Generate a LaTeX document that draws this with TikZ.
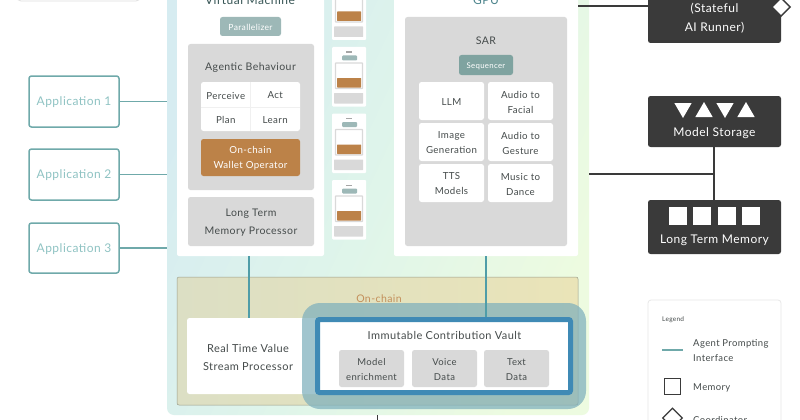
\documentclass[tikz,border=0pt]{standalone}
\usepackage{fontspec}
\setmainfont[LetterSpace=4]{Lato}
\usetikzlibrary{shapes.geometric}
\definecolor{teal1}{HTML}{6FA9AA}
\definecolor{teal2}{HTML}{4F9DA8}
\definecolor{tealtxt}{HTML}{8FC3C3}
\definecolor{ink}{HTML}{454B4B}
\definecolor{gbox}{HTML}{D9D9D9}
\definecolor{orng}{HTML}{BC8248}
\definecolor{dark}{HTML}{3A3A3A}
\definecolor{pill}{HTML}{9DB8B7}
\definecolor{pill2}{HTML}{7FA3A0}
\definecolor{vault}{HTML}{3F8AB5}
\definecolor{halo}{HTML}{7EB0BC}
\definecolor{bgA}{HTML}{D6ECF1}
\definecolor{bgB}{HTML}{DFF5EA}
\definecolor{bgC}{HTML}{EDFBE0}
\definecolor{ocA}{HTML}{DCDFC4}
\definecolor{ocB}{HTML}{EAE4B8}
\newcommand{\txtsize}[1]{\fontsize{#1}{15}\selectfont}
% \bx[style]{name}{x1}{y1}{x2}{y2}{text}: box, then its text 1pt below the centre
\newcommand{\bx}[7][]{%
  \pgfmathsetmacro{\bxw}{#5-#3}\pgfmathsetmacro{\bxh}{#6-#4}%
  \pgfmathsetmacro{\bxx}{(#3+#5)/2}\pgfmathsetmacro{\bxy}{(#4+#6)/2}%
  \pgfmathsetmacro{\bxt}{\bxy+1}%
  \node[panelbox,#1,minimum width=\bxw pt,minimum height=\bxh pt] (#2) at (\bxx,\bxy) {};%
  \if\relax\detokenize{#7}\relax\else
    \node[panelbox,#1,draw=none,fill=none] (#2t) at (\bxx,\bxt) {#7};%
  \fi}
\tikzset{
  panelbox/.style={rectangle,rounded corners=2.5pt,inner sep=0pt,align=center,text=ink,font=\txtsize{10}},
  whitebox/.style={fill=white},
  greybox/.style={fill=gbox},
  appbox/.style={draw=teal1,line width=1.5pt,fill=white,text=tealtxt,font=\txtsize{12}},
  darkbox/.style={fill=dark,text=white,font=\txtsize{12}},
  pillbox/.style={fill=pill,text=white,font=\txtsize{8.5}},
  cellbox/.style={font=\txtsize{9.7}},
  txtlabel/.style={inner sep=0pt,text=ink,align=center,font=\txtsize{10}},
  teal wire/.style={draw=teal1,line width=1.3pt},
  prompt wire/.style={draw=teal2,line width=1.1pt},
  dark wire/.style={draw=dark,line width=1.2pt},
  tri/.style={fill=white,regular polygon,regular polygon sides=3,inner sep=0pt,minimum size=20pt},
  sq/.style={fill=white,minimum size=18pt,inner sep=0pt},
}
\begin{document}
\begin{tikzpicture}[x=1pt,y=-1pt]
\path[use as bounding box,clip] (0,0) rectangle (800,420);
\fill[white] (0,0) rectangle (800,420);
% top-left cropped box
\bx[fill=white,draw=gray!25,line width=.8pt,rounded corners=5pt]{topbox}{16}{-20}{141}{1}{}
% main gradient
\node[rectangle,rounded corners=7pt,minimum width=422pt,minimum height=440pt,inner sep=0pt,
  left color=bgA,right color=bgC,middle color=bgB,shading angle=65] (main) at (378,195) {};
% applications
\bx[appbox]{a1}{29}{76}{119}{127}{Application 1}
\bx[appbox]{a2}{29}{149}{119}{200}{Application 2}
\bx[appbox]{a3}{29}{223}{119}{273}{Application 3}
\foreach \n in {a1,a2,a3} \draw[teal wire] (\n.east) -- (\n.east -| main.west);
% virtual machine
\bx[whitebox,rounded corners=2pt]{vm}{177}{-20}{324}{256}{}
\node[txtlabel,text=ink!80!teal,font=\txtsize{12}] (vmt) at (250,0.5) {Virtual Machine};
\bx[pillbox]{par}{220}{17}{281}{36}{Parallelizer}
\bx[greybox]{ab}{188}{44}{314}{190}{}
\node[txtlabel,font=\txtsize{10.5}] (abt) at (250.5,68) {Agentic Behaviour};
\bx[fill=white]{c0}{201}{82}{300}{131}{}
\bx[cellbox]{c1}{201}{82}{250.5}{107}{Perceive}
\bx[cellbox]{c2}{250.5}{82}{300}{107}{Act}
\bx[cellbox]{c3}{201}{107}{250.5}{131}{Plan}
\bx[cellbox]{c4}{250.5}{107}{300}{131}{Learn}
\draw[gray!12,line width=.6pt] (c1.north east) -- (c3.south east);
\draw[gray!12,line width=.6pt] (c1.south west) -- (c2.south east);
\bx[fill=orng,text=white,font=\txtsize{9.7}]{wal}{201}{139}{300}{176}{On-chain\\Wallet Operator}
\bx[greybox,font=\fontsize{10.5}{18}\selectfont]{ltm}{188}{197}{314}{246}{Long Term\\Memory Processor}
% small stacks
\foreach \i/\ty in {1/-19.5,2/47,3/113.5,4/180}{
  \pgfmathsetmacro{\ya}{\ty}\pgfmathsetmacro{\yb}{\ty+59.5}
  \pgfmathsetmacro{\yc}{\ty+8.5}\pgfmathsetmacro{\yd}{\ty+13.5}
  \pgfmathsetmacro{\ye}{\ty+16}\pgfmathsetmacro{\yf}{\ty+41.5}
  \pgfmathsetmacro{\yg}{\ty+31}\pgfmathsetmacro{\yh}{\ty+40.5}
  \pgfmathsetmacro{\yj}{\ty+46}\pgfmathsetmacro{\yk}{\ty+56.5}
  \pgfmathsetmacro{\yl}{\ty+4.5}\pgfmathsetmacro{\ym}{\ty+5.7}
  \bx[whitebox,rounded corners=1pt]{s\i}{332}{\ya}{366}{\yb}{}
  \bx[fill=gray!70,rounded corners=0pt]{sd\i}{346}{\yl}{352}{\ym}{}
  \bx[fill=pill,rounded corners=1pt]{sp\i}{342}{\yc}{357}{\yd}{}
  \bx[fill=white,draw=gbox,line width=1.1pt,rounded corners=.5pt]{sb\i}{335.5}{\ye}{362.5}{\yf}{}
  \bx[fill=orng,rounded corners=.5pt]{so\i}{337}{\yg}{361}{\yh}{}
  \bx[fill=gbox,rounded corners=.5pt]{sg\i}{334}{\yj}{363}{\yk}{}
}
% gpu
\bx[whitebox,rounded corners=2pt]{gpu}{394}{-20}{578}{256}{}
\node[txtlabel,text=teal2!70!ink,font=\txtsize{12}] (gput) at (486,0.5) {GPU};
\bx[greybox]{sar}{405}{17}{567}{246}{}
\node[txtlabel,font=\txtsize{10.5}] (sart) at (486,40.5) {SAR};
\bx[pillbox,fill=pill2,font=\txtsize{7.8}]{seq}{459}{55}{513}{75}{Sequencer}
\bx[cellbox,fill=white]{g1}{419}{82}{484}{120}{LLM}
\bx[cellbox,fill=white]{g2}{488}{82}{553}{120}{Audio to\\Facial}
\bx[cellbox,fill=white]{g3}{419}{123}{484}{161}{Image\\Generation}
\bx[cellbox,fill=white]{g4}{488}{123}{553}{161}{Audio to\\Gesture}
\bx[cellbox,fill=white]{g5}{419}{164}{484}{202}{TTS\\Models}
\bx[cellbox,fill=white]{g6}{488}{164}{553}{202}{Music to\\Dance}
% on-chain
\node[rectangle,rounded corners=2pt,minimum width=401pt,minimum height=128pt,inner sep=0pt,draw=ocA!70!black,line width=.5pt,
  left color=ocA,right color=ocB] (oc) at (377.5,341) {};
\node[txtlabel,text=orng!90!white,font=\txtsize{10.5}] (oct) at (379,299) {On-chain};
\bx[whitebox]{rtv}{187}{318}{320}{394}{}
\node[txtlabel,font=\fontsize{11}{18}\selectfont] (rtvt) at (248,357) {Real Time Value\\Stream Processor};
\bx[fill=halo,fill opacity=.72,rounded corners=18pt]{halo}{302}{303}{586}{409}{}
\bx[fill=white,draw=vault,line width=5pt,rounded corners=2pt]{icv}{317.5}{319.5}{570.5}{392.5}{}
\node[txtlabel,font=\txtsize{11}] (icvt) at (444.5,335) {Immutable Contribution Vault};
\bx[greybox,font=\txtsize{9.5}]{v1}{339}{350}{404}{387}{Model\\enrichment}
\bx[greybox,font=\txtsize{9.5}]{v2}{412}{350}{477}{387}{Voice\\Data}
\bx[greybox,font=\txtsize{9.5}]{v3}{484}{350}{549}{387}{Text\\Data}
% prompt links
\coordinate (vmdown) at (249,256);
\coordinate (gpudown) at (486,256);
\draw[prompt wire] (vmdown) -- (vmdown |- rtv.north);
\draw[prompt wire] (gpudown) -- (gpudown |- icv.north);
% bottom stub
\coordinate (stubtop) at (377,415);
\coordinate (stubend) at (377,421);
\draw[draw=dark,line width=.8pt] (stubtop) -- (stubend);
% right column
\bx[darkbox]{run}{648}{-20}{781}{43}{}
\node[txtlabel,text=white,font=\fontsize{12}{19}\selectfont] (runt) at (714.5,18) {(Stateful\\AI Runner)};
\node[diamond,aspect=1,fill=white,draw=dark,line width=1.4pt,minimum size=19pt,inner sep=0pt] (rund) at (781,7) {};
\coordinate (gpuright) at (578,6);
\draw[dark wire] (gpuright) -- (gpuright -| run.west);
\bx[darkbox]{ms}{648}{96}{781}{147}{}
\node[tri,shape border rotate=180] (t1) at (683,108) {};
\node[tri] (t2) at (704,112) {};
\node[tri,shape border rotate=180] (t3) at (725,108) {};
\node[tri] (t4) at (746,112) {};
\node[txtlabel,text=white,font=\txtsize{12}] (mst) at (714.5,133) {Model Storage};
\bx[darkbox]{lt}{648}{200}{781}{254}{}
\node[sq] (q1) at (677.5,216) {};
\node[sq] (q2) at (702,216) {};
\node[sq] (q3) at (727,216) {};
\node[sq] (q4) at (751,216) {};
\node[txtlabel,text=white,font=\txtsize{12}] (ltt) at (714.5,240) {Long Term Memory};
\coordinate (junc) at (714,174);
\draw[dark wire] (ms.south -| junc) -- (lt.north -| junc);
\draw[dark wire] (main.east |- junc) -- (junc);
% legend
\bx[fill=white,draw=gray!18,line width=.8pt,rounded corners=3pt]{leg}{648}{300}{781}{440}{}
\node[txtlabel,anchor=west,font=\txtsize{6.5}] (legt) at (662,319.5) {Legend};
\coordinate (ll) at (662,350);
\coordinate (lr) at (683,350);
\draw[teal wire] (ll) -- (lr);
\node[txtlabel,anchor=west,align=left,font=\txtsize{9.5}] (lgt1) at (693,351) {Agent Prompting\\Interface};
\node[draw=dark,line width=1.3pt,minimum size=16.5pt,inner sep=0pt] (lgs) at (672.5,386.5) {};
\node[txtlabel,anchor=west,font=\txtsize{9.5}] (lgt2) at (693,387.5) {Memory};
\node[diamond,aspect=1,draw=dark,line width=1.3pt,minimum size=20pt,inner sep=0pt] (lgd) at (672.5,418) {};
\node[txtlabel,anchor=west,font=\txtsize{9.5}] (lgt3) at (693,420.5) {Coordinator};
\end{tikzpicture}
\end{document}
